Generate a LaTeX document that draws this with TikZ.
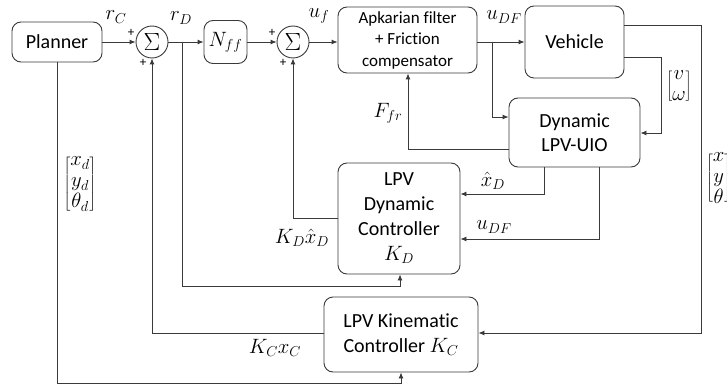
\documentclass[tikz,border=0pt]{standalone}
\usepackage{fontspec}
\setmainfont[Ligatures=NoCommon]{Carlito}
\usetikzlibrary{arrows.meta}
\definecolor{ln}{HTML}{3A3A3A}
\newcommand\mybvec[1]{\left[\vcenter{\baselineskip=21pt\lineskiplimit=0pt\lineskip=1pt\halign{\hfil$##$\hfil\cr#1\crcr}}\right]}
\begin{document}
\begin{tikzpicture}[x=1pt,y=-1pt,
  blk/.style={draw=ln,line width=0.9pt,rounded corners=9pt,align=center,inner sep=0pt,
    font=\fontsize{20}{25}\selectfont},
  sumc/.style={draw=ln,line width=0.9pt,circle,minimum size=32pt,inner sep=0pt,font=\fontsize{23}{24}\selectfont},
  wire/.style={draw=ln,line width=0.9pt},
  arr/.style={wire,-{Latex[length=6pt,width=5pt]}},
  lbl/.style={inner sep=0pt,font=\fontsize{22}{24}\selectfont},
  mtx/.style={inner sep=0pt,font=\fontsize{22}{23}\selectfont},
  pls/.style={inner sep=0pt,font=\fontsize{13}{14}\selectfont}]
\useasboundingbox (0,0) rectangle (727,385);
\clip (0,0) rectangle (727,385);

% blocks
\node[blk,minimum width=90pt,minimum height=40pt] (plan) at (57,42) {Planner};
\node[sumc] (s1) at (152,42) {$\Sigma$};
\node[blk,minimum width=43pt,minimum height=43pt,font=\fontsize{22}{24}\selectfont] (nff) at (225.5,42) {$N_{ff}$};
\node[sumc] (s2) at (293,42) {$\Sigma$};
\node[blk,minimum width=139pt,minimum height=66pt,font=\fontsize{17}{21.5}\selectfont] (apk) at (407.5,40) {Apkarian filter\\+ Friction\\compensator};
\node[blk,minimum width=99pt,minimum height=72pt] (veh) at (574.5,42) {Vehicle};
\node[blk,minimum width=131pt,minimum height=69pt,font=\fontsize{20}{24.5}\selectfont] (uio) at (574.5,132.5) {Dynamic\\LPV-UIO};
\node[blk,minimum width=122pt,minimum height=111pt] (dyn) at (399,218.5) {LPV\\Dynamic\\Controller\\\fontsize{22}{25}\selectfont$K_D$};
\node[blk,minimum width=154pt,minimum height=75pt] (kin) at (401,334.5) {LPV Kinematic\\Controller $K_C$};

% branch coordinates
\coordinate (rD) at (182,42);
\coordinate (uD) at (492,42);

% forward path
\draw[arr] (plan) -- (s1);
\draw[wire] (s1) -- (rD);
\draw[arr] (rD) -- (nff);
\draw[arr] (nff) -- (s2);
\draw[arr] (s2) -- (s2 -| apk.west);
\draw[wire] (apk.east |- uD) -- (uD);
\draw[arr] (uD) -- (veh.west |- uD);
\draw[arr] (uD) |- (uio.west |- 0,117);

% vehicle outputs
\draw[arr] (veh.east |- 0,25) -| (701,333) -- (kin.east |- 0,333);
\draw[arr] (veh.east |- 0,57) -| (661,133) -- (uio.east |- 0,133);

% UIO outputs
\draw[arr] (uio.west |- 0,149) -| (apk.south -| 408,0);
\draw[arr] (uio.south -| 544,0) |- (dyn.east |- 0,194);
\draw[arr] (uio.south -| 599,0) |- (dyn.east |- 0,239);

% controller outputs
\draw[arr] (dyn.west |- 0,218) -| (s2.south);
\draw[arr] (rD) |- (400,286) -- (dyn.south -| 400,0);
\draw[arr] (kin.west |- 0,333) -| (s1.south);
\draw[arr] (plan.south) |- (401,383) -- (kin.south -| 401,0);

% labels
\node[lbl] (lrc) at (116,17) {$r_C$};
\node[lbl] (lrd) at (181,18) {$r_D$};
\node[lbl] (luf) at (319,16) {$u_f$};
\node[lbl] (ludf) at (504,17) {$u_{DF}$};
\node[lbl] (lffr) at (388,113) {$F_{fr}$};
\node[lbl] (lxh) at (493,181) {$\hat{x}_D$};
\node[lbl] (ludf2) at (494,227) {$u_{DF}$};
\node[lbl] (lkd) at (302,238) {$K_D\hat{x}_D$};
\node[lbl] (lkc) at (275,348) {$K_C x_C$};
\node[pls] (p1) at (131,33) {+};
\node[pls] (p2) at (143,63) {+};
\node[pls] (p3) at (272,33) {+};
\node[pls] (p4) at (283,63) {+};
\node[mtx] (mvw) at (679,86) {$\mybvec{v\cr \omega}$};
\node[mtx] (mxd) at (80,184) {$\mybvec{x_d\cr y_d\cr \theta_d}$};
\node[mtx,anchor=west] (mxy) at (706,178) {$\mybvec{x\cr y\cr \theta}$};
\end{tikzpicture}
\end{document}
